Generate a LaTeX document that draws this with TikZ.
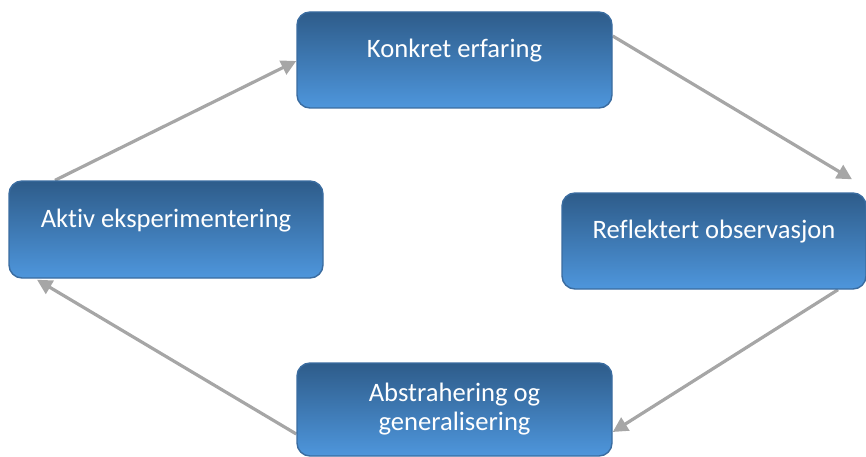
\documentclass[tikz,border=0pt]{standalone}
\usepackage{fontspec}
\setmainfont{Carlito}[RawFeature=-liga]
\usetikzlibrary{arrows.meta,backgrounds}

\definecolor{boxtop}{RGB}{46,92,138}
\definecolor{boxbot}{RGB}{78,150,220}
\definecolor{boxedge}{RGB}{58,108,160}
\definecolor{arrowgray}{RGB}{166,166,166}

\tikzset{
  stage/.style={draw=boxedge, line width=1.4pt, rounded corners=13pt,
    top color=boxtop, bottom color=boxbot, inner sep=0pt},
  stagetext/.style={text=white, font=\fontsize{26.6}{29}\selectfont,
    align=center, inner sep=0pt},
  flow/.style={draw=arrowgray, line width=3.2pt,
    -{Triangle[length=15pt,width=15pt]}},
}

\begin{document}
\begin{tikzpicture}[x=1pt,y=-1pt]
  \useasboundingbox (0,0) rectangle (866,457);

  % the four stages of the cycle
  \node[stage, minimum width=315pt, minimum height=96pt] (kon) at (454.5,60) {};
  \node[stage, minimum width=314pt, minimum height=97pt] (akt) at (166,229.5) {};
  \node[stage, minimum width=304pt, minimum height=96pt] (ref) at (714,241) {};
  \node[stage, minimum width=315pt, minimum height=93pt] (abs) at (454.5,409.5) {};

  % stage captions
  \node[stagetext, anchor=base] (konT) at ([yshift=2pt]kon.center) {Konkret erfaring};
  \node[stagetext, anchor=base] (aktT) at ([yshift=2.5pt]akt.center) {Aktiv eksperimentering};
  \node[stagetext, anchor=base] (refT) at ([yshift=3pt]ref.center) {Reflektert observasjon};
  \node[stagetext] (absT) at ([yshift=0pt]abs.center) {Abstrahering og\\generalisering};

  % arrows between the stages, kept behind the boxes
  \begin{pgfonlayer}{background}
    \draw[flow] ([yshift=24pt]kon.east) -- ([xshift=138pt,yshift=13pt]ref.north);
    \draw[flow] ([xshift=124pt]ref.south) -- ([yshift=-22.5pt]abs.east);
    \draw[flow] ([yshift=-24.5pt]abs.west) -- ([xshift=-129pt,yshift=-1pt]akt.south);
    \draw[flow] ([xshift=-111pt]akt.north) -- ([yshift=-1pt]kon.west);
  \end{pgfonlayer}
\end{tikzpicture}
\end{document}
